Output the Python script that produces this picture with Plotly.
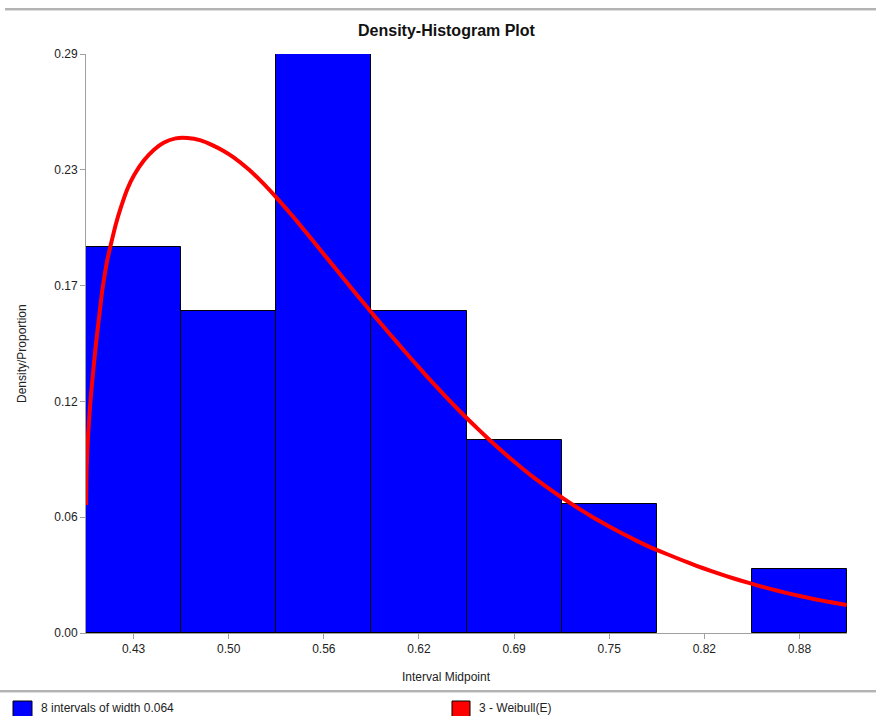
import plotly.graph_objects as go

# ---- data ----
midpoints = [0.433, 0.4967, 0.5604, 0.6241, 0.6878, 0.7515, 0.8152, 0.8789]
bin_width = 0.0637
proportions = [0.1935, 0.1613, 0.2903, 0.1613, 0.0968, 0.0645, 0.0, 0.0323]
x_tick_labels = ["0.43", "0.50", "0.56", "0.62", "0.69", "0.75", "0.82", "0.88"]
y_tick_vals = [0.0, 0.0581, 0.1161, 0.1742, 0.2322, 0.2903]
y_tick_labels = ["0.00", "0.06", "0.12", "0.17", "0.23", "0.29"]

weibull_x = [0.4012, 0.4016, 0.4025, 0.4038, 0.4054, 0.4076, 0.4099, 0.4121, 0.4154,
             0.4177, 0.4210, 0.4244, 0.4288, 0.4333, 0.4400, 0.4467, 0.4534, 0.4612,
             0.4690, 0.4780, 0.4857, 0.4930, 0.50, 0.51, 0.52, 0.53, 0.54, 0.55, 0.56, 0.57,
             0.58, 0.59, 0.60, 0.61, 0.62, 0.63, 0.64, 0.65, 0.66, 0.67, 0.68, 0.69,
             0.70, 0.71, 0.72, 0.73, 0.74, 0.75, 0.76, 0.77, 0.78, 0.79, 0.80, 0.81,
             0.82, 0.83, 0.84, 0.85, 0.86, 0.87, 0.88, 0.89, 0.90, 0.9106]
weibull_y = [0.0642, 0.0832, 0.0983, 0.1133, 0.1268, 0.1434, 0.1584, 0.1720, 0.1870,
             0.1945, 0.2046, 0.2131, 0.2225, 0.2295, 0.2370, 0.2423, 0.2459, 0.2480,
             0.2482, 0.2470, 0.2446, 0.2418, 0.2385, 0.2325, 0.2253, 0.2172, 0.2086, 0.1995, 0.1903, 0.1811,
             0.1719, 0.1628, 0.1539, 0.1452, 0.1366, 0.1282, 0.1201, 0.1123, 0.1049, 0.0978, 0.0910, 0.0846,
             0.0785, 0.0730, 0.0678, 0.0629, 0.0583, 0.0540, 0.0500, 0.0462, 0.0427, 0.0396, 0.0366, 0.0337,
             0.0310, 0.0285, 0.0262, 0.0240, 0.0220, 0.0201, 0.0184, 0.0168, 0.0154, 0.0140]

# ---- layout geometry (pixels) ----
W, H = 876, 716
L, R, T, B = 86, 847, 54, 633


def px(x):
    return (x - L) / (R - L)


def py(y):
    return (B - y) / (B - T)


FONT = "Liberation Sans, Arial, sans-serif"

fig = go.Figure()
fig.add_trace(go.Bar(
    x=midpoints, y=proportions, width=[bin_width] * len(midpoints),
    marker=dict(color="#0000FF",
                line=dict(color="#000000",
                          width=[1 if v > 0 else 0 for v in proportions])),
    showlegend=False, hoverinfo="x+y"))
fig.add_trace(go.Scatter(
    x=weibull_x, y=weibull_y, mode="lines",
    line=dict(color="#FF0000", width=4, shape="spline", smoothing=0.5),
    showlegend=False))

x_lo = midpoints[0] - bin_width / 2
x_hi = midpoints[-1] + bin_width / 2

fig.update_layout(
    width=W, height=H, autosize=False,
    margin=dict(l=L, r=W - R, t=T, b=H - B, pad=0),
    plot_bgcolor="white", paper_bgcolor="white",
    bargap=0,
    font=dict(family=FONT, size=12, color="#222222"),
    xaxis=dict(range=[x_lo, x_hi], tickvals=midpoints, ticktext=x_tick_labels,
               showgrid=False, zeroline=False, showline=True, linecolor="#a0a0a0",
               linewidth=1, ticks="outside", ticklen=5, tickcolor="#a0a0a0",
               tickfont=dict(family=FONT, size=12, color="#222222")),
    yaxis=dict(range=[0, y_tick_vals[-1]], tickvals=y_tick_vals, ticktext=y_tick_labels,
               showgrid=False, zeroline=False, showline=True, linecolor="#a0a0a0",
               linewidth=1, ticks="outside", ticklen=5, tickcolor="#a0a0a0",
               tickfont=dict(family=FONT, size=12, color="#222222")),
)

annotations = [
    dict(text="<b>Density-Histogram Plot</b>", x=px(447), y=py(31), xref="paper", yref="paper",
         showarrow=False, xanchor="center", yanchor="middle",
         font=dict(family=FONT, size=16, color="#111111")),
    dict(text="Interval Midpoint", x=px(446), y=py(677), xref="paper", yref="paper",
         showarrow=False, xanchor="center", yanchor="middle",
         font=dict(family=FONT, size=12, color="#222222")),
    dict(text="Density/Proportion", x=px(22), y=py(354), xref="paper", yref="paper",
         showarrow=False, xanchor="center", yanchor="middle", textangle=-90,
         font=dict(family=FONT, size=12, color="#222222")),
    dict(text="8 intervals of width 0.064", x=px(39), y=py(708), xref="paper", yref="paper",
         showarrow=False, xanchor="left", yanchor="middle",
         font=dict(family=FONT, size=12, color="#222222")),
    dict(text="3 - Weibull(E)", x=px(477), y=py(708), xref="paper", yref="paper",
         showarrow=False, xanchor="left", yanchor="middle",
         font=dict(family=FONT, size=12, color="#222222")),
]
fig.update_layout(annotations=annotations)

shapes = [
    dict(type="line", xref="paper", yref="paper", x0=px(5), x1=px(876), y0=py(9), y1=py(9),
         line=dict(color="#9a9a9a", width=1.5)),
    dict(type="line", xref="paper", yref="paper", x0=px(5), x1=px(876), y0=py(10.5), y1=py(10.5),
         line=dict(color="#dddddd", width=1)),
    dict(type="line", xref="paper", yref="paper", x0=px(0), x1=px(876), y0=py(691), y1=py(691),
         line=dict(color="#9a9a9a", width=1.5)),
    dict(type="line", xref="paper", yref="paper", x0=px(0), x1=px(876), y0=py(692.5), y1=py(692.5),
         line=dict(color="#dddddd", width=1)),
    dict(type="rect", xref="paper", yref="paper", x0=px(13), x1=px(32), y0=py(701), y1=py(718),
         fillcolor="#0000FF", line=dict(color="#000000", width=1)),
    dict(type="rect", xref="paper", yref="paper", x0=px(452), x1=px(470), y0=py(701), y1=py(718),
         fillcolor="#FF0000", line=dict(color="#000000", width=1)),
]
fig.update_layout(shapes=shapes)

fig.write_html("out.html", config={"displayModeBar": False},
               post_script="document.body.style.margin='0';document.body.style.overflow='hidden';")
